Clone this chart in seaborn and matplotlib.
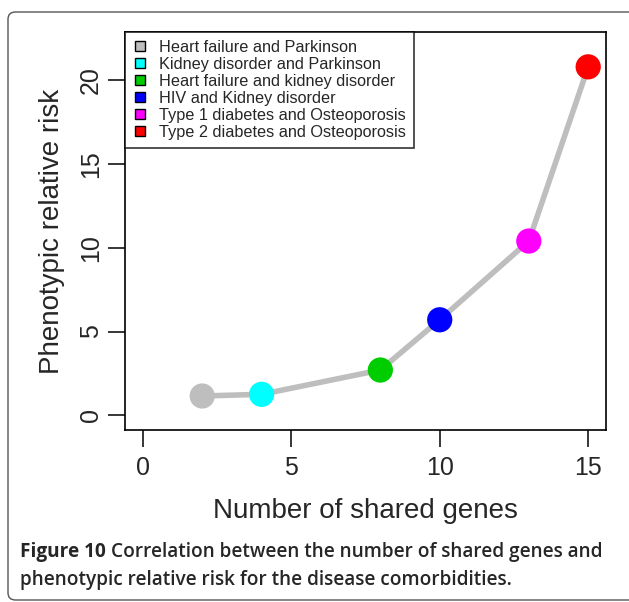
import matplotlib
matplotlib.use("Agg")
import matplotlib.pyplot as plt
import seaborn as sns
import pandas as pd
from matplotlib.patches import FancyBboxPatch
from matplotlib.lines import Line2D

sns.set_style("white")
plt.rcParams['font.family'] = ['Liberation Sans', 'DejaVu Sans']

pairs = ["Heart failure and Parkinson", "Kidney disorder and Parkinson",
         "Heart failure and kidney disorder", "HIV and Kidney disorder",
         "Type 1 diabetes and Osteoporosis", "Type 2 diabetes and Osteoporosis"]
shared_genes = [2, 4, 8, 10, 13, 15]
relative_risk = [1.15, 1.25, 2.7, 5.7, 10.4, 20.8]
colors = ["#BEBEBE", "#00FFFF", "#00CD00", "#0000FF", "#FF00FF", "#FF0000"]
x_ticks = [0, 5, 10, 15]
y_ticks = [0, 5, 10, 15, 20]

df = pd.DataFrame({"pair": pairs, "genes": shared_genes, "risk": relative_risk})

fig = plt.figure(figsize=(6.29, 6.02), dpi=100)
# outer frame
frame = FancyBboxPatch((8 / 629, 2 / 602), 640 / 629, (602 - 14) / 602,
                       boxstyle="round,pad=0,rounding_size=0.012",
                       transform=fig.transFigure, fill=False,
                       edgecolor="#555555", linewidth=1.0)
fig.patches.append(frame)

ax = fig.add_axes([125 / 629, 1 - 430 / 602, 481 / 629, 398 / 602])
sns.lineplot(data=df, x="genes", y="risk", color="#BEBEBE", linewidth=4,
             ax=ax, legend=False, zorder=2)
sns.scatterplot(data=df, x="genes", y="risk", hue="pair", palette=colors,
                s=330, edgecolor="none", ax=ax, legend=False, zorder=3)

ax.set_xlim(-0.6, 15.6)
ax.set_ylim(-0.88, 22.88)
ax.set_xticks(x_ticks)
ax.set_yticks(y_ticks)
ax.set_xticklabels([str(t) for t in x_ticks], fontsize=18)
ax.set_yticklabels([str(t) for t in y_ticks], fontsize=18, rotation=90, va="center")
ax.tick_params(axis="both", direction="out", length=12, width=1.1, color="black",
               bottom=True, left=True, pad=4)
ax.tick_params(axis="x", pad=7)
for s in ax.spines.values():
    s.set_color("black")
    s.set_linewidth(1.2)
ax.set_xlabel("Number of shared genes", fontsize=20, labelpad=13)
ax.set_ylabel("Phenotypic relative risk", fontsize=20, labelpad=10)

handles = [Line2D([], [], marker="s", linestyle="none", markerfacecolor=c,
                  markeredgecolor="black", markeredgewidth=1.0, markersize=7.5)
           for c in colors]
leg = ax.legend(handles, pairs, loc="upper left", bbox_to_anchor=(0, 1),
                borderaxespad=0, fontsize=11.7, frameon=True, fancybox=False,
                edgecolor="black", handlelength=0.9, handletextpad=0.7,
                labelspacing=0.12, borderpad=0.5)
leg.get_frame().set_linewidth(1.2)

cap_fam = ['Open Sans', 'DejaVu Sans']
fig.canvas.draw()
t1 = fig.text(20 / 629, 1 - 552 / 602, "Figure 10 ", fontsize=13.7, fontweight="bold",
              family=cap_fam, va="center", ha="left")
bb = t1.get_window_extent(renderer=fig.canvas.get_renderer())
fig.text(bb.x1 / fig.bbox.width, 1 - 552 / 602,
         "Correlation between the number of shared genes and",
         fontsize=13.7, fontweight="semibold", family=cap_fam, va="center", ha="left")
fig.text(20 / 629, 1 - 580 / 602,
         "phenotypic relative risk for the disease comorbidities.",
         fontsize=13.7, fontweight="semibold", family=cap_fam, va="center", ha="left")

fig.savefig("out.png", dpi=100)
